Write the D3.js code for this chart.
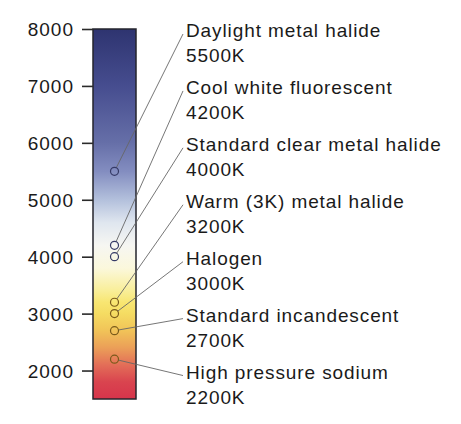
<!DOCTYPE html>
<html>
<head>
<meta charset="utf-8">
<script src="https://cdn.jsdelivr.net/npm/d3@7"></script>
<style>
  html, body { margin: 0; padding: 0; background: #ffffff; }
  svg { display: block; }
  text { font-family: "Liberation Sans", Arial, sans-serif; }
</style>
</head>
<body>
<svg id="chart" width="461" height="424"></svg>
<script>
// ---- data ----
const axisTicks = [2000, 3000, 4000, 5000, 6000, 7000, 8000];
const lampNames = [
  "Daylight metal halide",
  "Cool white fluorescent",
  "Standard clear metal halide",
  "Warm (3K) metal halide",
  "Halogen",
  "Standard incandescent",
  "High pressure sodium"
];
const lampKelvin = [5500, 4200, 4000, 3200, 3000, 2700, 2200];
const labelAnchors = [8000, 7000, 6000, 5000, 4000, 3000, 2000];
const scaleMin = 1500;
const scaleMax = 8000;
const gradientTemps  = [8000, 7000, 6000, 5500, 5000, 4600, 4200, 3800, 3400, 3200, 3000, 2700, 2400, 2100, 1800, 1500];
const gradientColors = ["#2e3470", "#464d8f", "#666fa8", "#838dc0", "#b3c0dc", "#dfe6ef", "#f6f6f2", "#fbf8dc",
                        "#f9ee98", "#f8e672", "#f5dc62", "#f1c358", "#eb9f58", "#e36e58", "#d9444f", "#d6344b"];

// ---- layout ----
const svg = d3.select("#chart");
const y = d3.scaleLinear().domain([scaleMin, scaleMax]).range([399, 29]);
const x = d3.scaleBand().domain(["CCT"]).range([93, 136]).padding(0);

// gradient
const defs = svg.append("defs");
const grad = defs.append("linearGradient")
  .attr("id", "cct")
  .attr("gradientUnits", "userSpaceOnUse")
  .attr("x1", 0).attr("x2", 0)
  .attr("y1", y(scaleMax)).attr("y2", y(scaleMin));
grad.selectAll("stop")
  .data(gradientTemps.map((t, i) => ({t, c: gradientColors[i]})))
  .join("stop")
  .attr("offset", d => (y(d.t) - y(scaleMax)) / (y(scaleMin) - y(scaleMax)))
  .attr("stop-color", d => d.c);

// bar
svg.append("rect")
  .attr("x", x("CCT"))
  .attr("y", y(scaleMax))
  .attr("width", x.bandwidth())
  .attr("height", y(scaleMin) - y(scaleMax))
  .attr("fill", "url(#cct)")
  .attr("stroke", "#25252d")
  .attr("stroke-width", 1.5);

// axis
const axis = d3.axisLeft(y).tickValues(axisTicks).tickSize(11).tickPadding(8).tickFormat(d3.format("d"));
const ag = svg.append("g").attr("transform", `translate(${x("CCT")},0)`).call(axis);
ag.select(".domain").remove();
ag.selectAll(".tick line").attr("stroke", "#2a2a2a").attr("stroke-width", 1.6);
ag.selectAll(".tick text")
  .attr("fill", "#1a1a1a")
  .style("font-size", "19px")
  .style("letter-spacing", "1px")
  .attr("dy", "0.36em");

// leaders + circles + labels
const cx = x("CCT") + x.bandwidth() / 2;
const labelX = 186;
const r = 4;
const items = lampNames.map((n, i) => ({name: n, k: lampKelvin[i], a: labelAnchors[i]}));

const g = svg.append("g");
items.forEach(d => {
  const x0 = cx, y0 = y(d.k);
  const x1 = labelX - 3, y1 = y(d.a) + 5;
  const len = Math.hypot(x1 - x0, y1 - y0);
  g.append("line")
    .attr("x1", x0 + (x1 - x0) / len * r)
    .attr("y1", y0 + (y1 - y0) / len * r)
    .attr("x2", x1).attr("y2", y1)
    .attr("stroke", "#666666")
    .attr("stroke-width", 0.9);
  g.append("circle")
    .attr("cx", x0).attr("cy", y0).attr("r", r)
    .attr("fill", "none")
    .attr("stroke", d.k >= 4000 ? "#353a66" : "#7a5a1a")
    .attr("stroke-width", 1.2);
  const t = g.append("text")
    .attr("x", labelX)
    .attr("y", y(d.a) + 8)
    .attr("fill", "#1a1a1a")
    .style("font-size", "19px")
    .style("letter-spacing", "0.9px");
  t.append("tspan").attr("x", labelX).text(d.name);
  t.append("tspan").attr("x", labelX).attr("dy", 25).text(d.k + "K");
});
</script>
</body>
</html>
